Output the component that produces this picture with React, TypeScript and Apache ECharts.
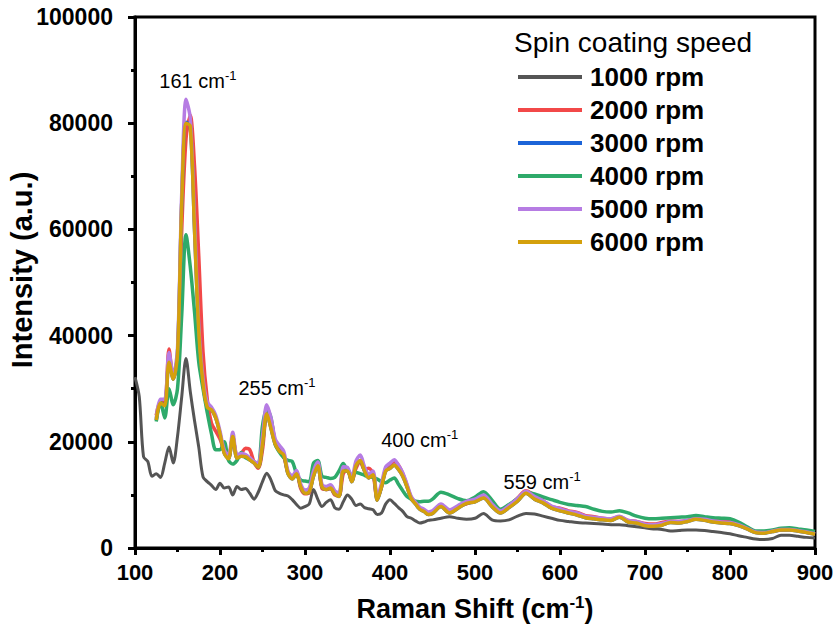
import React, { useEffect, useRef } from "react";
import * as echarts from "echarts";

const shifts = [100,105,110,115,120,125,130,135,140,145,150,155,160,165,170,175,180,185,190,195,200,205,210,215,220,225,230,235,240,245,250,255,260,265,270,275,280,285,290,295,300,305,310,315,320,325,330,335,340,345,350,355,360,365,370,375,380,385,390,395,400,405,410,415,420,425,430,435,440,445,450,460,470,480,490,500,510,520,530,540,550,560,570,580,590,600,610,620,630,640,650,660,670,680,690,700,710,720,730,740,750,760,770,780,790,800,810,820,830,840,850,860,870,880,890,900];

const rpm1000 = [32200,28500,17200,16300,13500,14000,13300,16000,19000,16000,21000,28500,35700,29500,24000,19000,13400,12500,11800,11000,12200,11300,11500,10000,11600,11000,11200,10300,9200,10500,12500,14100,12800,10800,10300,10000,9800,9100,8200,7500,7800,8300,11000,9200,7800,8600,9100,7600,7300,8700,10000,9200,8000,8300,7600,7400,7200,6300,6600,8300,9100,8400,7600,6900,5900,5600,5100,4700,4900,5200,5300,5600,5900,5600,5400,5600,6500,5300,5100,5300,6000,6500,6400,6000,5600,5200,5000,4800,4700,4600,4500,4400,4400,4200,4000,3800,3600,3500,3200,3300,3400,3400,3300,3100,2900,2700,2300,2000,1700,1600,1800,2400,2400,2200,2000,1900];

const rpm2000 = [null,null,null,null,null,25000,27500,27500,37500,32000,35500,60000,77000,81500,72000,55000,37000,28000,23500,22000,20500,18300,17000,20800,17500,17800,18800,18500,16200,15000,18500,24800,24000,20000,18500,17300,14200,13300,14200,11200,10200,10400,14000,15800,11200,11000,11200,10000,9800,14000,14800,12600,15000,16200,14800,15000,14000,9300,11500,15000,15800,16300,15600,14000,11800,9500,8500,7500,7000,6600,6800,8000,7000,7800,8300,9000,9600,8000,6900,7800,9400,10800,9900,8900,7800,7500,7000,6700,6100,5900,5600,5500,5900,5200,5000,4600,4500,4800,5100,5000,5200,5600,5500,5300,5400,5300,4500,3800,3000,2900,3200,3400,3500,3300,3000,2700];

const rpm3000 = [null,null,null,null,null,24100,27300,26900,35100,31800,36500,65200,80200,79600,60100,41000,31000,26500,26000,24500,21500,17900,16800,21000,16900,17300,17200,16600,16000,15200,19600,25400,22500,19500,18200,17500,14000,13000,14000,11500,10300,10600,13500,15500,11500,11000,11300,10200,9700,14500,14500,12500,15500,16500,14500,13200,13800,9000,11500,14500,15000,15600,14800,13500,11500,9300,8300,7300,6900,6300,6500,7800,6600,7500,8400,8700,9400,7800,6600,7600,8800,10300,9200,8500,7500,7000,6600,6200,5700,5500,5300,5200,5800,4900,4700,4200,4100,4300,4800,4700,5000,5400,5200,4900,4700,4600,4200,3600,2900,2800,3100,3400,3400,3200,2900,2600];

const rpm4000 = [null,null,null,null,null,23800,27500,24500,30000,27000,30000,44000,59000,53000,44500,35000,30000,25500,21500,18500,18500,20000,16500,15800,16500,18000,17000,16600,16200,15900,23000,26300,24500,19500,18000,17000,16500,16300,14000,12800,12600,12500,16000,16500,13500,13300,13100,13300,14500,15900,14500,13800,14200,14000,13700,13400,13300,13000,12500,12300,12800,13200,12000,10800,9700,9200,8800,8700,8800,8800,9200,10500,10000,9300,8900,9600,10600,9000,7300,8200,9300,10500,10200,9600,9100,8600,8200,8000,7800,7300,6900,6800,7000,6600,6000,5600,5500,5600,5700,5800,5900,6100,5900,5700,5600,5500,4900,4000,3200,3200,3400,3700,3800,3600,3400,3100];

const rpm5000 = [null,null,null,null,null,24500,28000,28000,36800,32500,37500,67000,84500,81000,62000,42000,32000,27500,26500,25000,22000,18500,17500,21800,17500,17800,17600,17000,16300,16000,21000,27000,24500,20500,19300,18200,14500,13600,14600,12000,10900,11300,14500,16200,12000,11600,11900,10800,10300,15300,15200,13200,16400,17500,15300,13900,14500,9500,12200,15300,16000,16600,15600,14200,12000,9700,8600,7700,7300,6800,7000,8300,7200,8000,8800,9200,10000,8300,7000,8000,9300,10700,9700,8900,7900,7400,6900,6600,6000,5800,5600,5500,6000,5200,5000,4500,4400,4600,5000,5000,5200,5500,5400,5100,4900,4800,4400,3700,3000,2900,3200,3500,3500,3300,3000,2700];

const rpm6000 = [null,null,null,null,null,24100,27300,26800,35000,31800,36500,65000,80000,79500,60000,41000,31000,26500,26000,24500,21500,17800,16800,21000,16900,17300,17200,16600,16000,15200,19500,25300,22500,19500,18200,17500,14000,13000,14000,11500,10300,10600,13500,15500,11500,11000,11300,10200,9700,14500,14500,12500,15500,16500,14500,13200,13800,9000,11500,14500,15000,15600,14800,13500,11500,9300,8300,7300,6900,6300,6500,7800,6600,7500,8400,8700,9400,7800,6600,7600,8800,10300,9200,8500,7500,7000,6600,6200,5700,5500,5300,5200,5800,4900,4700,4200,4100,4300,4800,4700,5000,5400,5200,4900,4700,4600,4200,3600,2900,2800,3100,3400,3400,3200,2900,2600];

const seriesNames = ["1000 rpm", "2000 rpm", "3000 rpm", "4000 rpm", "5000 rpm", "6000 rpm"];
const seriesColors = ["#555555", "#f24848", "#1c64d8", "#2eaa6a", "#b67ce3", "#d4a00c"];
const peakShifts = [161, 255, 400, 559];
const xTicks = [100, 200, 300, 400, 500, 600, 700, 800, 900];
const yTicks = [0, 20000, 40000, 60000, 80000, 100000];

const FONT = "Arial, 'Liberation Sans', Helvetica, sans-serif";

export default function App() {
  const ref = useRef<HTMLDivElement>(null);
  useEffect(() => {
    if (!ref.current) return;
    const chart = echarts.init(ref.current, null, { renderer: "svg" });
    const all = [rpm1000, rpm2000, rpm3000, rpm4000, rpm5000, rpm6000];
    // annotation anchor points (data space) for each peak label
    const annotAnchors: [number, number][] = [
      [174, 88000],
      [267, 30100],
      [435, 20300],
      [579, 12500],
    ];
    const series: any[] = all.map((vals, i) => ({
      name: seriesNames[i],
      type: "line",
      data: shifts
        .map((s, j) => [s, vals[j]])
        .filter((p) => p[1] !== null && p[1] !== undefined),
      symbol: "none",
      showSymbol: false,
      smooth: 0.3,
      lineStyle: { width: i === 0 ? 3 : 3.5, color: seriesColors[i] },
      itemStyle: { color: seriesColors[i] },
      z: 2 + i,
      silent: true,
    }));
    series[series.length - 1].markPoint = {
      symbol: "circle",
      symbolSize: 0,
      silent: true,
      itemStyle: { color: "transparent" },
      label: {
        show: true,
        position: "inside",
        color: "#000",
        fontFamily: FONT,
        rich: {
          a: { fontSize: 20, fontFamily: FONT, color: "#000", lineHeight: 24 },
          b: { fontSize: 13, fontFamily: FONT, color: "#000", verticalAlign: "top", lineHeight: 14 },
        },
      },
      data: peakShifts.map((p, k) => ({
        coord: annotAnchors[k],
        value: p,
        label: { formatter: `{a|${p} cm}{b|-1}` },
      })),
    };

    const option: any = {
      animation: false,
      backgroundColor: "#ffffff",
      grid: {
        left: 135,
        right: 20,
        top: 17,
        bottom: 80,
        show: true,
        borderColor: "#000",
        borderWidth: 3,
        backgroundColor: "transparent",
        containLabel: false,
        outerBoundsMode: "none",
      },
      legend: {
        orient: "vertical",
        left: 513,
        top: 59,
        icon: "rect",
        itemWidth: 64,
        itemHeight: 4,
        itemGap: 7,
        selectedMode: false,
        data: seriesNames,
        textStyle: {
          fontFamily: FONT,
          fontSize: 26,
          fontWeight: "bold",
          color: "#000",
          lineHeight: 26,
          padding: [0, 0, 0, 3],
        },
      },
      graphic: [
        {
          type: "text",
          left: 514,
          top: 28,
          style: {
            text: "Spin coating speed",
            font: `28px ${FONT}`,
            fill: "#000",
          },
        },
        {
          type: "text",
          x: 22,
          y: 270,
          rotation: Math.PI / 2,
          style: {
            text: "Intensity (a.u.)",
            font: `bold 29px ${FONT}`,
            fill: "#000",
            align: "center",
            verticalAlign: "middle",
          },
        },
      ],
      xAxis: {
        type: "value",
        min: xTicks[0],
        max: xTicks[xTicks.length - 1],
        interval: 100,
        name: "{a|Raman Shift (cm}{b|-1}{a|)}",
        nameLocation: "middle",
        nameGap: 46,
        nameTextStyle: {
          rich: {
            a: { fontSize: 27, fontWeight: "bold", fontFamily: FONT, color: "#000", lineHeight: 30 },
            b: { fontSize: 17, fontWeight: "bold", fontFamily: FONT, color: "#000", verticalAlign: "top", lineHeight: 17 },
          },
        },
        axisLine: { show: true, onZero: false, lineStyle: { color: "#000", width: 3 } },
        axisTick: { show: true, inside: false, length: 7, lineStyle: { color: "#000", width: 3 } },
        minorTick: { show: true, splitNumber: 2, length: 4, lineStyle: { color: "#000", width: 3 } },
        axisLabel: {
          show: true,
          margin: 13,
          fontFamily: FONT,
          fontSize: 22,
          fontWeight: "bold",
          color: "#000",
        },
        splitLine: { show: false },
      },
      yAxis: {
        type: "value",
        min: yTicks[0],
        max: yTicks[yTicks.length - 1],
        interval: 20000,
        axisLine: { show: true, onZero: false, lineStyle: { color: "#000", width: 3 } },
        axisTick: { show: true, inside: false, length: 7, lineStyle: { color: "#000", width: 3 } },
        minorTick: { show: true, splitNumber: 2, length: 4, lineStyle: { color: "#000", width: 3 } },
        axisLabel: {
          show: true,
          margin: 22,
          fontFamily: FONT,
          fontSize: 23,
          fontWeight: "bold",
          color: "#000",
          formatter: (v: number) => String(v),
        },
        splitLine: { show: false },
      },
      series,
    };
    chart.setOption(option);
    return () => chart.dispose();
  }, []);
  return (
    <div
      ref={ref}
      style={{ position: "absolute", left: 0, top: 0, width: 835, height: 628, background: "#fff" }}
    />
  );
}
